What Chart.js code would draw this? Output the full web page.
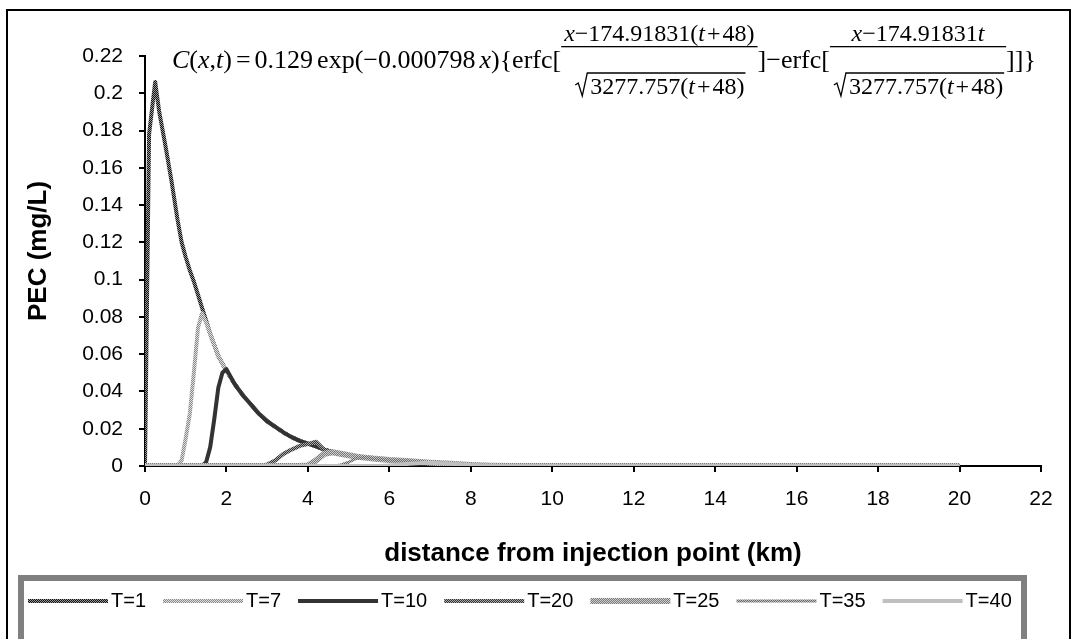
<!DOCTYPE html>
<html>
<head>
<meta charset="utf-8">
<title>PEC vs distance</title>
<script src="https://cdn.jsdelivr.net/npm/chart.js"></script>
<style>
    body { margin: 0; background: #fff; }
</style>
</head>
<body>
<canvas id="chart" width="1073" height="639"></canvas>
<script>
// distance from injection point (km), shared by every series
var distance = [0, 0.1, 0.25, 0.35, 0.5, 0.65, 0.8, 0.9, 1.0, 1.1, 1.2, 1.3, 1.4, 1.5, 1.6, 1.7, 1.8, 1.9, 2.0,
    2.2, 2.4, 2.6, 2.8, 3.0, 3.2, 3.4, 3.6, 3.8, 4.0, 4.2, 4.4, 4.6, 4.8, 5.0, 5.2, 5.4, 5.6, 5.8, 6.0,
    6.5, 7.0, 7.5, 8.0, 8.5, 9.0, 10, 12, 14, 16, 18, 20];

var seriesNames = ['T=1', 'T=7', 'T=10', 'T=20', 'T=25', 'T=35', 'T=40'];

// PEC (mg/L)
var pecT1 = [0, 0.178, 0.206, 0.19, 0.172, 0.153, 0.132, 0.12, 0.112, 0.105, 0.099, 0.092, 0.085, 0.078, 0.071, 0.065, 0.059, 0.055, 0.051,
    0.044, 0.038, 0.033, 0.028, 0.024, 0.021, 0.018, 0.0155, 0.0135, 0.012, 0.0105, 0.0088, 0.0076, 0.0066, 0.0058, 0.005, 0.0045, 0.004, 0.0036, 0.0032,
    0.0025, 0.0018, 0.0012, 0.0006, 0.0002, 0, 0, 0, 0, 0, 0, 0];
var pecT7 = [0, 0, 0, 0, 0, 0, 0, 0.003, 0.015, 0.028, 0.05, 0.074, 0.082, 0.077, 0.071, 0.065, 0.059, 0.055, 0.051,
    0.044, 0.038, 0.033, 0.028, 0.024, 0.021, 0.018, 0.0155, 0.0135, 0.012, 0.0105, 0.0088, 0.0076, 0.0066, 0.0058, 0.005, 0.0045, 0.004, 0.0036, 0.0032,
    0.0025, 0.0018, 0.0012, 0.0006, 0.0002, 0, 0, 0, 0, 0, 0, 0];
var pecT10 = [0, 0, 0, 0, 0, 0, 0, 0, 0, 0, 0, 0, 0, 0.002, 0.01, 0.025, 0.042, 0.05, 0.052,
    0.044, 0.038, 0.033, 0.028, 0.024, 0.021, 0.018, 0.0155, 0.0135, 0.012, 0.0105, 0.0088, 0.0076, 0.0066, 0.0058, 0.005, 0.0045, 0.004, 0.0036, 0.0032,
    0.0025, 0.0018, 0.0012, 0.0006, 0.0002, 0, 0, 0, 0, 0, 0, 0];
var pecT20 = [0, 0, 0, 0, 0, 0, 0, 0, 0, 0, 0, 0, 0, 0, 0, 0, 0, 0, 0,
    0, 0, 0, 0, 0.0008, 0.003, 0.0065, 0.0088, 0.0108, 0.0118, 0.013, 0.0088, 0.0076, 0.0066, 0.0058, 0.005, 0.0045, 0.004, 0.0036, 0.0032,
    0.0025, 0.0018, 0.0012, 0.0006, 0.0002, 0, 0, 0, 0, 0, 0, 0];
var pecT25 = [0, 0, 0, 0, 0, 0, 0, 0, 0, 0, 0, 0, 0, 0, 0, 0, 0, 0, 0,
    0, 0, 0, 0, 0, 0, 0, 0, 0, 0.0003, 0.003, 0.0065, 0.0074, 0.0066, 0.0058, 0.005, 0.0045, 0.004, 0.0036, 0.0032,
    0.0025, 0.0018, 0.0012, 0.0006, 0.0002, 0, 0, 0, 0, 0, 0, 0];
var pecT35 = [0, 0, 0, 0, 0, 0, 0, 0, 0, 0, 0, 0, 0, 0, 0, 0, 0, 0, 0,
    0, 0, 0, 0, 0, 0, 0, 0, 0, 0, 0, 0, 0, 0.0006, 0.002, 0.0042, 0.0045, 0.004, 0.0036, 0.0032,
    0.0025, 0.0018, 0.0012, 0.0006, 0.0002, 0, 0, 0, 0, 0, 0, 0];
var pecT40 = [0, 0, 0, 0, 0, 0, 0, 0, 0, 0, 0, 0, 0, 0, 0, 0, 0, 0, 0,
    0, 0, 0, 0, 0, 0, 0, 0, 0, 0, 0, 0, 0, 0, 0, 0, 0, 0, 0, 0.0003,
    0.0012, 0.0018, 0.0012, 0.0006, 0.0002, 0, 0, 0, 0, 0, 0, 0];

var xTicks = [0, 2, 4, 6, 8, 10, 12, 14, 16, 18, 20, 22];
var yTicks = [0, 0.02, 0.04, 0.06, 0.08, 0.1, 0.12, 0.14, 0.16, 0.18, 0.2, 0.22];

// grey dot patterns like the printed excel lines
function hatch(a, b) {
    var c = document.createElement('canvas');
    c.width = 2; c.height = 2;
    var g = c.getContext('2d');
    g.fillStyle = a; g.fillRect(0, 0, 2, 2);
    g.fillStyle = b; g.fillRect(0, 0, 1, 1); g.fillRect(1, 1, 1, 1);
    return g.createPattern(c, 'repeat');
}

var allSeries = [pecT1, pecT7, pecT10, pecT20, pecT25, pecT35, pecT40];
var lineColors = [hatch('#111', '#999'), hatch('#888', '#e0e0e0'), '#333', hatch('#333', '#aaa'),
    hatch('#777', '#d0d0d0'), hatch('#666', '#c4c4c4'), '#bfbfbf'];
var lineWidths = [4, 4, 4, 4, 6, 3, 4];

var datasets = allSeries.map(function (vals, i) {
    return {
        label: seriesNames[i],
        data: distance.map(function (d, j) { return { x: d, y: vals[j] }; }),
        borderColor: lineColors[i],
        backgroundColor: lineColors[i],
        borderWidth: lineWidths[i],
        order: allSeries.length - i, // later series on top, as in the original
        fill: false
    };
});

var SERIF = '"Liberation Serif", "Times New Roman", serif';
var SANS = '"Liberation Sans", Arial, sans-serif';

function drawFormula(ctx) {
    var base = 68, numBase = 41, barY = 46, radTop = 73, denBase = 94;
    ctx.save();
    ctx.fillStyle = '#000';
    ctx.strokeStyle = '#000';
    ctx.textBaseline = 'alphabetic';
    // parts: [text, italic] or a number = extra gap in px
    function run(parts, x, y, size, draw) {
        var w = 0;
        parts.forEach(function (p) {
            if (typeof p === 'number') { w += p; return; }
            ctx.font = (p[1] ? 'italic ' : '') + size + 'px ' + SERIF;
            if (draw) ctx.fillText(p[0], x + w, y);
            w += ctx.measureText(p[0]).width;
        });
        return w;
    }
    function frac(x, num, den) {
        var fs = 24;
        var wn = run(num, 0, 0, fs, false), wd = run(den, 0, 0, fs, false);
        var rad = 16;
        var wDen = wd + rad;
        var w = Math.max(wn, wDen) + 6;
        run(num, x + (w - wn) / 2, numBase, fs, true);
        var dx = x + (w - wDen) / 2;
        run(den, dx + rad, denBase, fs, true);
        ctx.fillRect(x, barY, w, 1.3);
        ctx.lineWidth = 1.3;
        ctx.beginPath();
        ctx.moveTo(dx + 1, denBase - 9);
        ctx.lineTo(dx + 4, denBase - 11);
        ctx.lineTo(dx + 8, denBase + 2);
        ctx.lineTo(dx + 13, radTop);
        ctx.lineTo(dx + rad + wd + 1, radTop);
        ctx.stroke();
        return w;
    }
    var den = [['3277.757(', 0], ['t', 1], 2, ['+', 0], 2, ['48)', 0]];
    var x = 172, ms = 26;
    x += run([['C', 1], ['(', 0], ['x', 1], [',', 0], ['t', 1], [')', 0], 4, ['=', 0], 4, ['0.129', 0], 4, ['exp(\u22120.000798', 0], 4, ['x', 1], ['){erfc[', 0]], x, base, ms, true);
    x += frac(x, [['x', 1], ['\u2212174.91831(', 0], ['t', 1], 2, ['+', 0], 2, ['48)', 0]], den);
    x += run([[']\u2212erfc[', 0]], x, base, ms, true);
    x += frac(x, [['x', 1], ['\u2212174.91831', 0], ['t', 1]], den);
    run([[']]}', 0]], x, base, ms, true);
    ctx.restore();
}

var framePlugin = {
    id: 'frame',
    beforeDraw: function (chart) {
        var ctx = chart.ctx;
        ctx.save();
        ctx.fillStyle = '#fff';
        ctx.fillRect(0, 0, chart.width, chart.height);
        ctx.restore();
    },
    afterDraw: function (chart) {
        var ctx = chart.ctx;
        ctx.save();
        // outer chart border
        ctx.strokeStyle = '#000';
        ctx.lineWidth = 2;
        ctx.strokeRect(7, 10, 1063, 700);
        // y axis title, a little above the middle of the axis like the original
        ctx.fillStyle = '#000';
        ctx.font = 'bold 26px ' + SANS;
        ctx.textAlign = 'center';
        ctx.textBaseline = 'middle';
        ctx.translate(39, 251);
        ctx.rotate(-Math.PI / 2);
        ctx.fillText('PEC (mg/L)', 0, 0);
        ctx.restore();

        ctx.save();
        // legend box
        ctx.strokeStyle = '#808080';
        ctx.lineWidth = 6;
        ctx.strokeRect(21, 578, 1003, 200);
        // legend entries
        var x = 28, y = 601;
        ctx.font = '20px ' + SANS;
        ctx.textBaseline = 'middle';
        chart.data.datasets.forEach(function (ds) {
            ctx.strokeStyle = ds.borderColor;
            ctx.lineWidth = ds.borderWidth;
            ctx.beginPath();
            ctx.moveTo(x, y);
            ctx.lineTo(x + 80, y);
            ctx.stroke();
            ctx.fillStyle = '#000';
            ctx.fillText(ds.label, x + 83, y);
            x += 80 + 4 + ctx.measureText(ds.label).width + 16;
        });
        ctx.restore();
        drawFormula(ctx);
    }
};

Chart.defaults.font.family = SANS;
Chart.defaults.color = '#000';

new Chart(document.getElementById('chart').getContext('2d'), {
    type: 'line',
    data: { datasets: datasets },
    options: {
        responsive: false,
        animation: false,
        layout: { padding: { left: 10, right: 32, top: 56, bottom: 0 } },
        plugins: { legend: { display: false }, tooltip: { enabled: false } },
        elements: {
            point: { radius: 0 },
            line: { tension: 0, borderJoinStyle: 'round' }
        },
        scales: {
            x: {
                type: 'linear',
                min: xTicks[0],
                max: xTicks[xTicks.length - 1],
                afterBuildTicks: function (s) { s.ticks = xTicks.map(function (v) { return { value: v }; }); },
                ticks: { padding: 15, font: { size: 21 } },
                grid: { drawOnChartArea: false, tickLength: 6, color: '#000', lineWidth: 2 },
                border: { color: '#000', width: 2 },
                title: {
                    display: true,
                    text: 'distance from injection point (km)',
                    font: { size: 26, weight: 'bold' },
                    padding: { top: 0, bottom: 70 }
                },
                afterFit: function (s) { s.height = 173; }
            },
            y: {
                type: 'linear',
                min: yTicks[0],
                max: yTicks[yTicks.length - 1],
                afterBuildTicks: function (s) { s.ticks = yTicks.map(function (v) { return { value: v }; }); },
                ticks: {
                    padding: 16,
                    font: { size: 21 },
                    callback: function (v) { return String(+v.toFixed(2)); }
                },
                grid: { drawOnChartArea: false, tickLength: 6, color: '#000', lineWidth: 2 },
                border: { color: '#000', width: 2 },
                afterFit: function (s) { s.width = 135; }
            }
        }
    },
    plugins: [framePlugin]
});
</script>
</body>
</html>
